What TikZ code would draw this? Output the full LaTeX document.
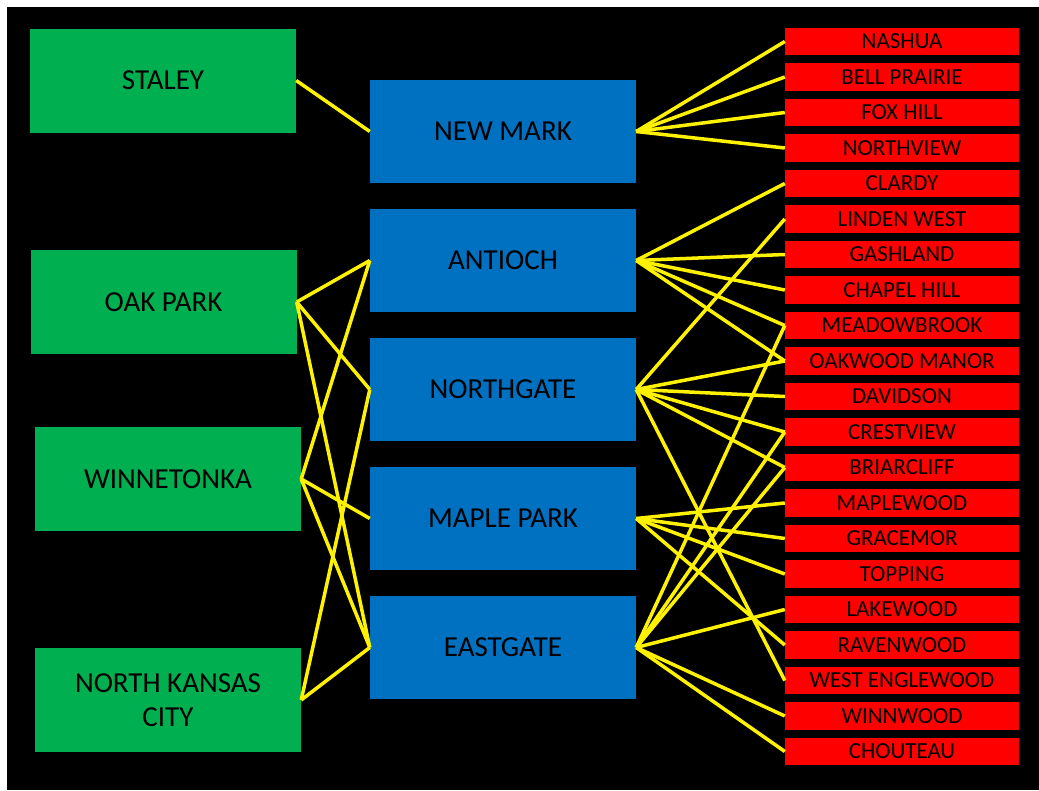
\documentclass[tikz,border=0pt]{standalone}
\usepackage{fontspec}
\setmainfont{Carlito}
\definecolor{schoolgreen}{RGB}{0,176,80}
\definecolor{schoolblue}{RGB}{0,112,192}
\begin{document}
\begin{tikzpicture}[x=1pt,y=-1pt,
    greenbox/.style={fill=schoolgreen, minimum width=266pt, minimum height=104pt, inner sep=0pt, align=center, font=\fontsize{29}{34}\selectfont},
    bluebox/.style={fill=schoolblue, minimum width=266pt, minimum height=103pt, inner sep=0pt, font=\fontsize{29}{32}\selectfont},
    redbox/.style={fill=red, minimum width=234pt, minimum height=27.5pt, inner sep=0pt, font=\fontsize{23}{25}\selectfont},
    link/.style={yellow, line width=3.5pt}]
        % Page and background
        \useasboundingbox (0,0) rectangle (1039,790);
        \fill[white] (0,0) rectangle (1039,790);
        \fill[black] (7,7) rectangle (1039,790);

        % Left column
        \node[greenbox] (staley) at (163,80.5) {STALEY};
        \node[greenbox] (oakpark) at (163.5,302) {OAK PARK};
        \node[greenbox] (winnetonka) at (168,479) {WINNETONKA};
        \node[greenbox] (nkc) at (168,700) {NORTH KANSAS\\CITY};

        % Middle column
        \foreach \name/\lbl [count=\i from 0] in {newmark/NEW MARK, antioch/ANTIOCH, northgate/NORTHGATE, maplepark/MAPLE PARK, eastgate/EASTGATE} {
            \node[bluebox] (\name) at (503,131.5+129*\i) {\lbl};
        }

        % Right column
        \foreach \name/\lbl [count=\i from 0] in {nashua/NASHUA, bellprairie/BELL PRAIRIE, foxhill/FOX HILL, northview/NORTHVIEW,
            clardy/CLARDY, lindenwest/LINDEN WEST, gashland/GASHLAND, chapelhill/CHAPEL HILL, meadowbrook/MEADOWBROOK,
            oakwood/OAKWOOD MANOR, davidson/DAVIDSON, crestview/CRESTVIEW, briarcliff/BRIARCLIFF, maplewood/MAPLEWOOD,
            gracemor/GRACEMOR, topping/TOPPING, lakewood/LAKEWOOD, ravenwood/RAVENWOOD, westenglewood/WEST ENGLEWOOD,
            winnwood/WINNWOOD, chouteau/CHOUTEAU} {
            \node[redbox] (\name) at (902,41.5+35.5*\i) {\lbl};
        }

        % Links left to middle
        \foreach \a/\b in {staley/newmark, oakpark/antioch, oakpark/northgate, oakpark/eastgate,
            winnetonka/antioch, winnetonka/maplepark, winnetonka/eastgate, nkc/northgate, nkc/eastgate} {
            \draw[link] (\a.east) -- (\b.west);
        }

        % Links middle to right
        \foreach \a/\b in {newmark/nashua, newmark/bellprairie, newmark/foxhill, newmark/northview,
            antioch/clardy, antioch/gashland, antioch/chapelhill, antioch/meadowbrook, antioch/oakwood,
            northgate/lindenwest, northgate/oakwood, northgate/davidson, northgate/crestview, northgate/briarcliff, northgate/westenglewood,
            maplepark/maplewood, maplepark/gracemor, maplepark/topping, maplepark/ravenwood,
            eastgate/meadowbrook, eastgate/crestview, eastgate/briarcliff, eastgate/lakewood, eastgate/winnwood, eastgate/chouteau} {
            \draw[link] (\a.east) -- (\b.west);
        }
    \end{tikzpicture}
\end{document}
